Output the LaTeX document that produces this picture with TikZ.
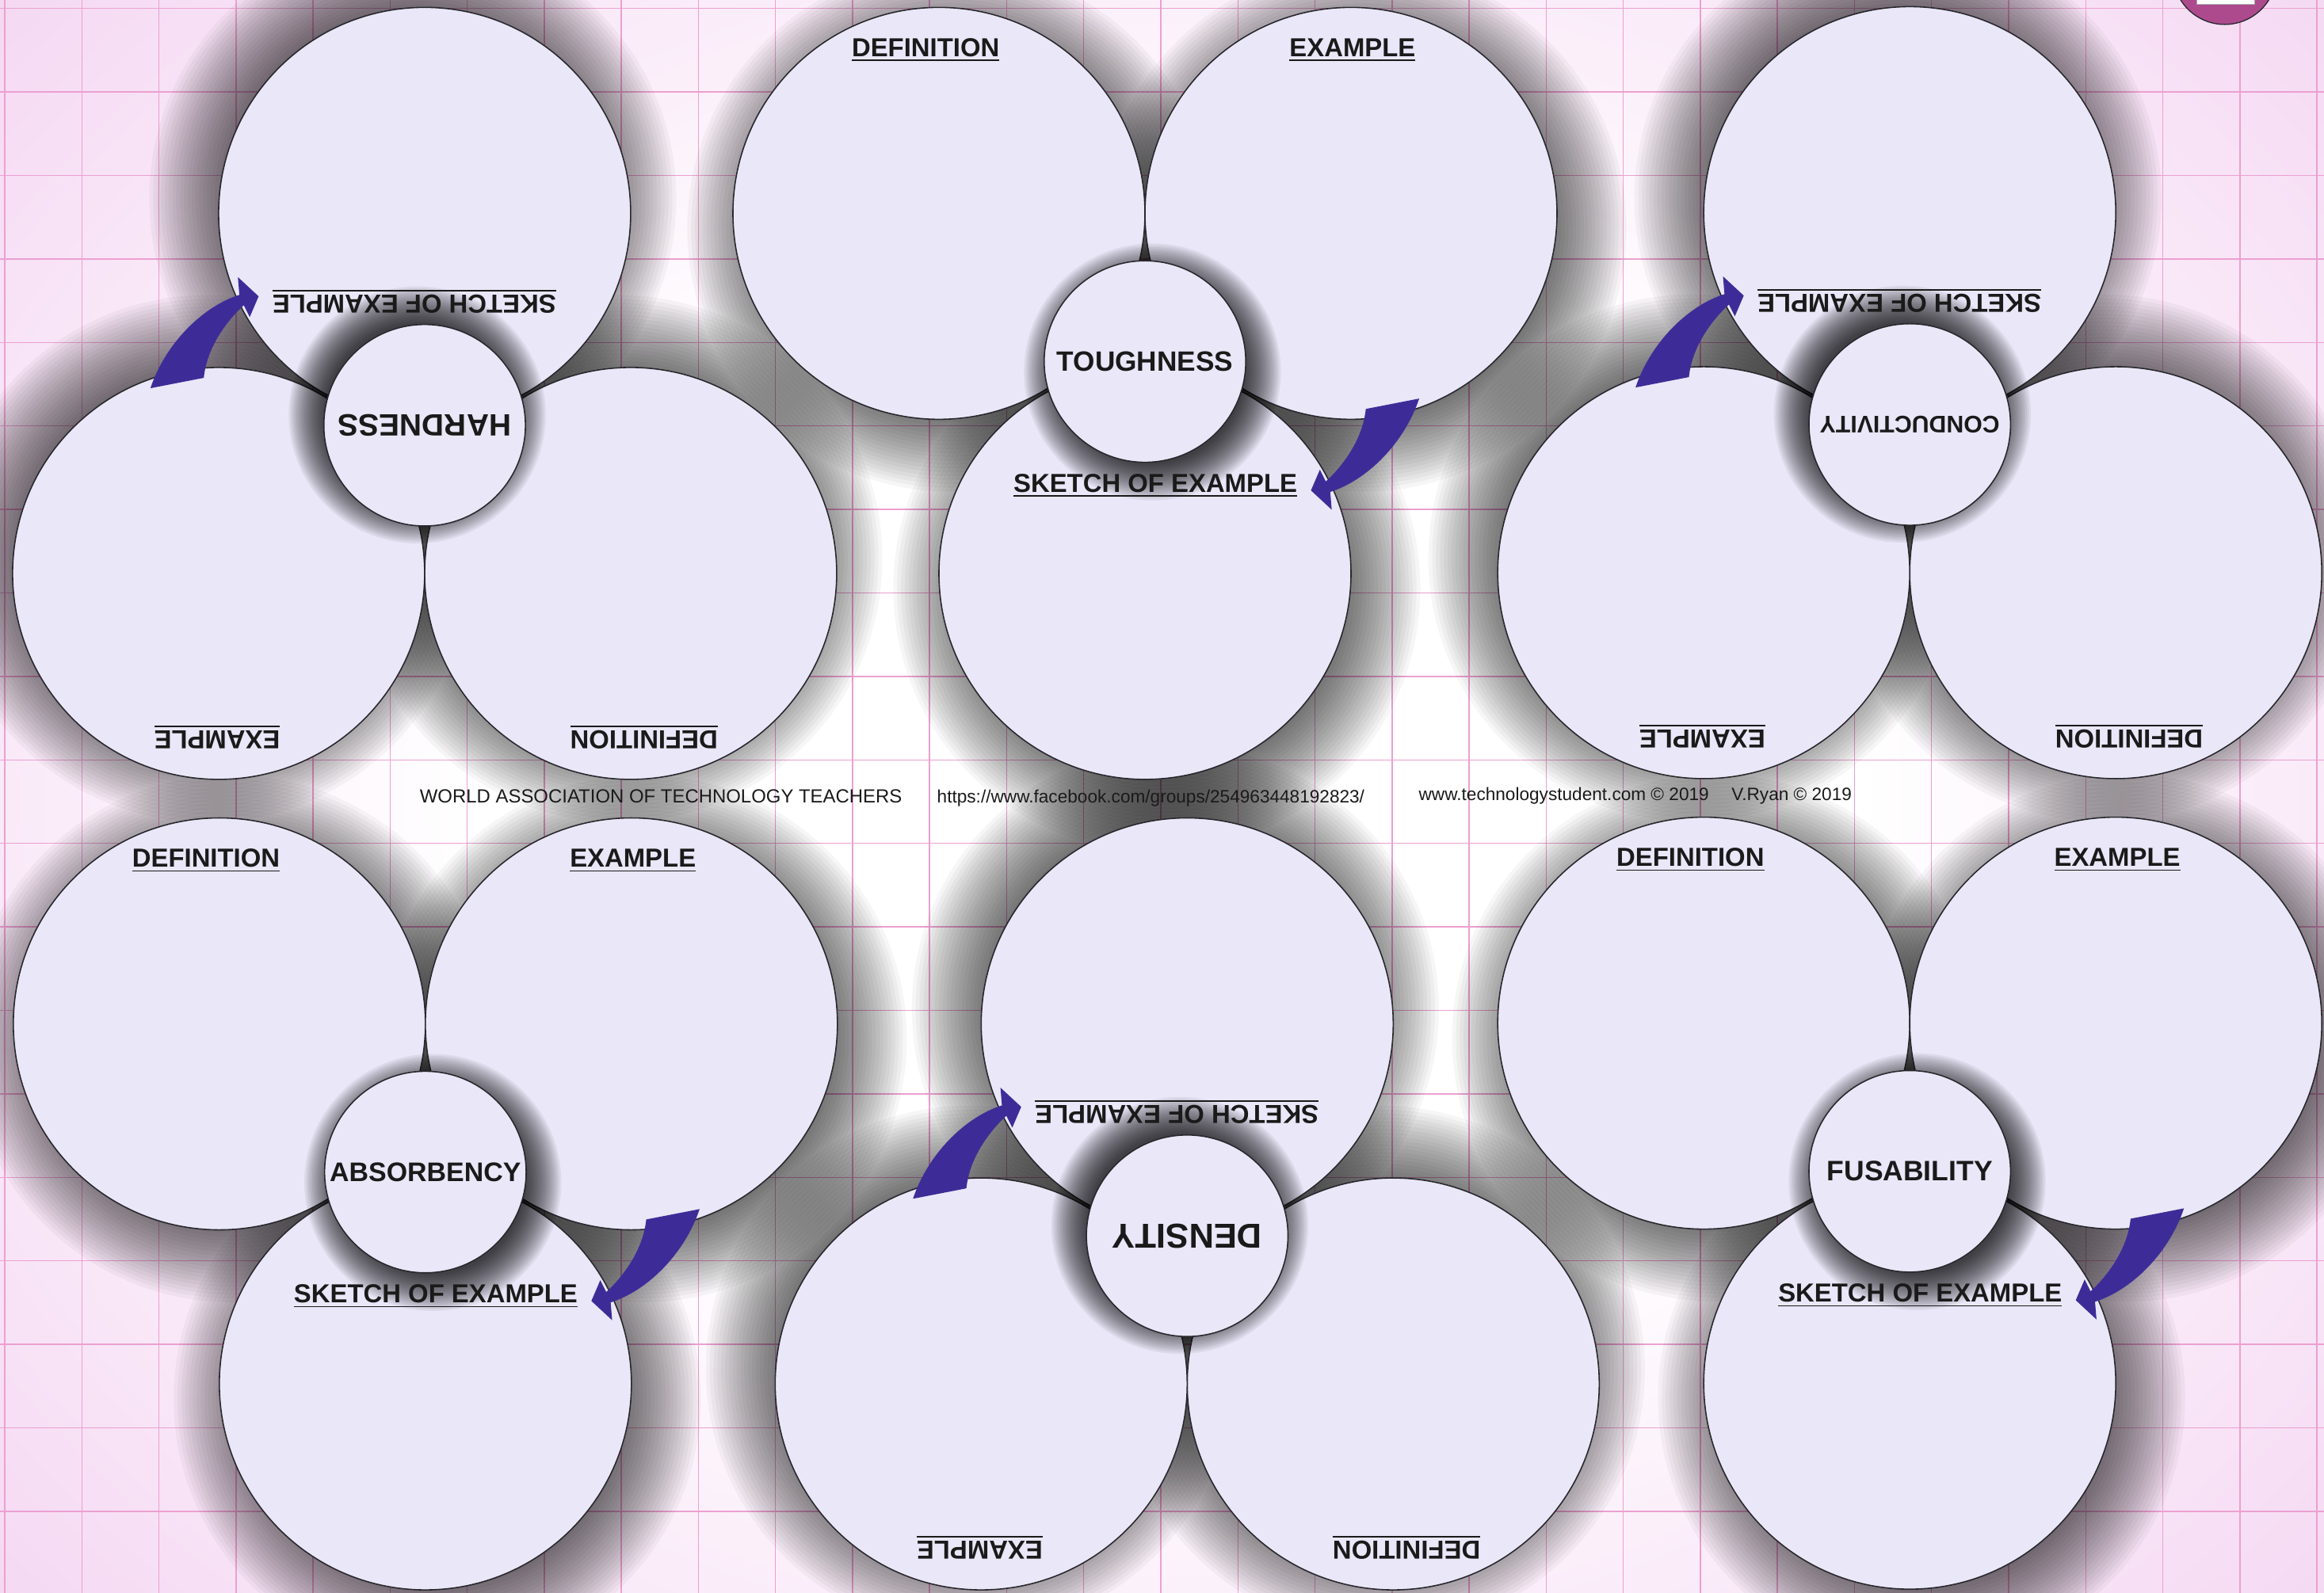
\documentclass[tikz,border=0pt]{standalone}
\usepackage{fontspec}
\setmainfont{Liberation Sans}

\definecolor{pinkbg}{RGB}{240,198,237}
\definecolor{gridpink}{RGB}{236,160,208}
\definecolor{discfill}{RGB}{234,231,248}
\definecolor{discline}{RGB}{40,40,45}
\definecolor{arrowblue}{RGB}{61,44,152}
\definecolor{badge}{RGB}{173,74,142}
\definecolor{inkblack}{RGB}{26,26,26}

\pgfdeclareradialshading{sheetglow}{\pgfpointorigin}{color(0bp)=(white); color(14bp)=(white); color(40bp)=(pinkbg); color(50bp)=(pinkbg)}

\newcommand{\ulabel}[1]{\setbox0=\hbox{#1}\rlap{\rule[-2.3pt]{\wd0}{0.65pt}}\box0}
\def\clusters{286.5/287/180/HARDNESS/14.8/hard, 772.5/244/0/TOUGHNESS/13.4/tough, 1288.5/286.5/180/CONDUCTIVITY/11.5/cond, 287/791/0/ABSORBENCY/12.9/absorb, 801/834/180/DENSITY/16.6/dense, 1288.5/790.5/0/FUSABILITY/13.5/fuse}

\begin{document}
\begin{tikzpicture}[
  x=0.25mm, y=-0.25mm,
  disc/.style={draw=discline, line width=0.6pt, fill=discfill},
  tag/.style={font=\bfseries\fontsize{12.5}{14}\selectfont, text=inkblack,
       inner sep=0pt, anchor=base},
  keyword/.style={font=\bfseries\fontsize{#1}{#1}\selectfont, text=inkblack,
       inner sep=0pt},
  credit/.style={font=\fontsize{#1}{10}\selectfont, text=inkblack,
       inner sep=0pt, anchor=base west},
  gridline/.style={draw=gridpink, line width=0.55pt},
  haze/.style={fill=black, opacity=#1},
  curvy/.style={fill=arrowblue}
]
\clip (0,0) rectangle (1568,1075);
\fill[pinkbg] (0,0) rectangle (1568,1075);
\shade[shading=sheetglow] (-40,-110) rectangle (1620,1190);
\foreach \k in {0,...,30}
  \draw[gridline] ({3.2+52*\k},0) -- ({3.2+52*\k},1075);
\foreach \k in {0,...,18}
  \draw[gridline] (0,{5.7+56.35*\k}) -- (1568,{5.7+56.35*\k});

% soft shadows, then discs
\foreach \cx/\cy/\turn/\word/\wsize/\id in \clusters {
  \begin{scope}[shift={(\cx,\cy)}, rotate=\turn]
    \foreach \bx/\by in {-139/-100, 139/-100, 0/143}
      \foreach \s in {0,...,23}
        \fill[haze=.036] (\bx+8,\by+10) circle ({118+2.6*\s});
  \end{scope}
}
\foreach \cx/\cy/\turn/\word/\wsize/\id in \clusters {
  \begin{scope}[shift={(\cx,\cy)}, rotate=\turn]
    \foreach \bx/\by in {-139/-100, 139/-100, 0/143}
      \filldraw[disc] (\bx,\by) circle (139);
  \end{scope}
}
\foreach \cx/\cy/\turn/\word/\wsize/\id in \clusters {
  \begin{scope}[shift={(\cx,\cy)}, rotate=\turn]
    \foreach \s in {0,...,19}
      \fill[haze=.058] (5,7) circle ({62+1.3*\s});
    \filldraw[disc] (0,0) circle (68);
    \node[keyword=\wsize, rotate=\turn] (\id-key) at (0,0) {\word};
    \node[tag, rotate=\turn] (\id-def) at (-148,-206) {\ulabel{DEFINITION}};
    \node[tag, rotate=\turn] (\id-ex) at (140,-206) {\ulabel{EXAMPLE}};
    \node[tag, rotate=\turn] (\id-sk) at (7,88) {\ulabel{SKETCH OF EXAMPLE}};
    \fill[curvy] (149,32) .. controls (147,52) and (134,70) .. (122,81)
      -- (118,73) -- (112,87) -- (126,100) -- (125,88)
      .. controls (150,80) and (175,55) .. (185,25) -- cycle;
  \end{scope}
}

\filldraw[fill=badge, draw=discline, line width=0.5pt] (1501,-18.5) circle (35);
\filldraw[fill=white, draw=discline!40, line width=0.3pt] (1482.3,-30) rectangle (1521.3,2.9);

\node[credit=9.1] (watt) at (283,542) {WORLD ASSOCIATION OF TECHNOLOGY TEACHERS};
\node[credit=8.6] (fb) at (632,542) {https://www.facebook.com/groups/254963448192823/};
\node[credit=8.6] (site) at (957,540) {www.technologystudent.com © 2019};
\node[credit=8.6] (ryan) at (1168,540) {V.Ryan © 2019};
\end{tikzpicture}
\end{document}
